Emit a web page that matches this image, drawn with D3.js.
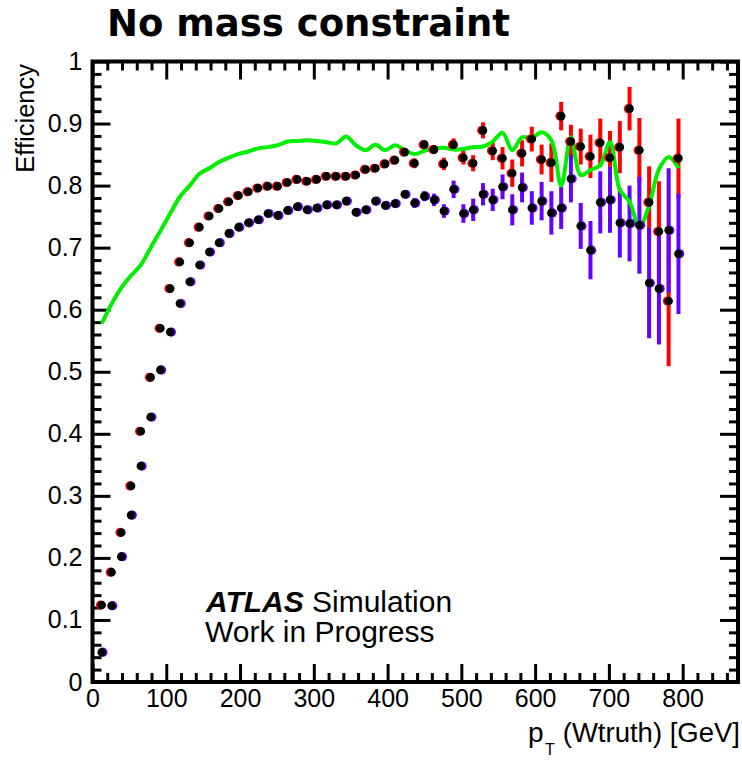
<!DOCTYPE html>
<html>
<head>
<meta charset="utf-8">
<script src="https://cdn.jsdelivr.net/npm/d3@7"></script>
<style>
  body { margin: 0; background: #fff; }
  .tick-label { font-family: "Liberation Sans", Arial, sans-serif; font-size: 25px; fill: #000; }
  .axis-title { font-family: "Liberation Sans", Arial, sans-serif; font-size: 28px; fill: #000; }
  .plot-title { font-family: "DejaVu Sans", sans-serif; font-weight: bold; font-size: 37px; fill: #000; }
  .atlas { font-family: "Liberation Sans", Arial, sans-serif; font-size: 30px; fill: #000; }
</style>
</head>
<body>
<div id="chart"></div>
<script>
// bin centres, p_T (Wtruth) [GeV]
const pT = [12.5, 25.8, 39, 52.3, 65.5, 78.8, 92, 105.3, 118.5, 131.8,
            145, 158.3, 171.5, 184.8, 198, 211.3, 224.5, 237.8, 251, 264.3,
            277.5, 290.8, 304, 317.3, 330.5, 343.8, 357, 370.3, 383.5, 396.8,
            410, 423.3, 436.5, 449.8, 463, 476.3, 489.5, 502.8, 516, 529.3,
            542.5, 555.8, 569, 582.3, 595.5, 608.8, 622, 635.3, 648.5, 661.8,
            675, 688.3, 701.5, 714.8, 728, 741.3, 754.5, 767.8, 781, 794.3];

// red series (upper points)
const effRed = [0.124, 0.177, 0.241, 0.316, 0.404, 0.491, 0.570, 0.634, 0.677, 0.708,
                0.733, 0.751, 0.763, 0.774, 0.784, 0.790, 0.796, 0.799, 0.799, 0.805,
                0.810, 0.807, 0.810, 0.815, 0.815, 0.815, 0.817, 0.826, 0.828, 0.835,
                0.841, 0.854, 0.836, 0.866, 0.858, 0.835, 0.866, 0.845, 0.836, 0.889,
                0.856, 0.844, 0.820, 0.852, 0.875, 0.842, 0.837, 0.912, 0.871, 0.863,
                0.847, 0.869, 0.845, 0.862, 0.924, 0.857, 0.773, 0.726, 0.614, 0.844];
const errRed = [0.003, 0.003, 0.003, 0.003, 0.003, 0.003, 0.003, 0.003, 0.003, 0.003,
                0.004, 0.004, 0.004, 0.004, 0.004, 0.004, 0.004, 0.004, 0.004, 0.004,
                0.004, 0.005, 0.005, 0.005, 0.005, 0.005, 0.005, 0.005, 0.005, 0.005,
                0.005, 0.006, 0.008, 0.007, 0.007, 0.010, 0.010, 0.011, 0.013, 0.013,
                0.015, 0.018, 0.022, 0.021, 0.020, 0.024, 0.031, 0.023, 0.027, 0.029,
                0.035, 0.039, 0.043, 0.042, 0.035, 0.052, 0.058, 0.081, 0.105, 0.064];

// violet series (lower points)
const effBlue = [0.048, 0.123, 0.202, 0.269, 0.348, 0.427, 0.503, 0.564, 0.610, 0.645,
                 0.672, 0.693, 0.708, 0.723, 0.733, 0.740, 0.745, 0.755, 0.752, 0.760,
                 0.766, 0.761, 0.764, 0.769, 0.769, 0.775, 0.757, 0.761, 0.775, 0.768,
                 0.771, 0.786, 0.772, 0.783, 0.777, 0.759, 0.794, 0.755, 0.761, 0.786,
                 0.777, 0.798, 0.761, 0.797, 0.764, 0.775, 0.756, 0.764, 0.811, 0.735,
                 0.696, 0.773, 0.777, 0.740, 0.739, 0.736, 0.643, 0.634, 0.728, 0.690];
const errBlue = [0.003, 0.003, 0.003, 0.003, 0.003, 0.003, 0.003, 0.003, 0.003, 0.003,
                 0.004, 0.004, 0.004, 0.004, 0.004, 0.004, 0.004, 0.004, 0.004, 0.004,
                 0.004, 0.006, 0.006, 0.006, 0.006, 0.006, 0.006, 0.006, 0.006, 0.006,
                 0.006, 0.006, 0.008, 0.008, 0.010, 0.011, 0.014, 0.015, 0.018, 0.018,
                 0.018, 0.020, 0.025, 0.024, 0.027, 0.031, 0.035, 0.034, 0.038, 0.037,
                 0.047, 0.050, 0.053, 0.056, 0.061, 0.078, 0.089, 0.090, 0.100, 0.097];

// green curve
const effGreen = [0.578, 0.609, 0.635, 0.655, 0.672, 0.700, 0.727, 0.755, 0.782, 0.800,
                  0.819, 0.828, 0.838, 0.845, 0.851, 0.855, 0.860, 0.862, 0.865, 0.871,
                  0.872, 0.873, 0.872, 0.870, 0.868, 0.879, 0.865, 0.857, 0.866, 0.857,
                  0.865, 0.857, 0.851, 0.856, 0.860, 0.861, 0.858, 0.859, 0.862, 0.863,
                  0.871, 0.885, 0.857, 0.878, 0.877, 0.886, 0.873, 0.800, 0.878, 0.817,
                  0.825, 0.833, 0.870, 0.793, 0.774, 0.733, 0.768, 0.826, 0.846, 0.828];

const xTicks = [0, 100, 200, 300, 400, 500, 600, 700, 800];
const yTicks = [0, 0.1, 0.2, 0.3, 0.4, 0.5, 0.6, 0.7, 0.8, 0.9, 1];

const width = 742, height = 760;
const frame = {left: 92.5, right: 738, top: 61.5, bottom: 682};

const svg = d3.select("#chart")
    .append("svg")
    .attr("width", width)
    .attr("height", height)
    .style("background", "#fff");

const x = d3.scaleLinear().domain([0, 875]).range([frame.left, frame.right]);
const y = d3.scaleLinear().domain([0, 1]).range([frame.bottom, frame.top]);

const xMinor = d3.range(0, 875, 20).filter(v => v % 100 !== 0);
const yMinor = d3.range(0, 50).map(i => i * 0.02).filter((v, i) => i % 5 !== 0);

// ticks: long majors, short minors, all pointing into the frame
function ticks(axisFn, scale, pos, major, minor, withLabels) {
    const g = svg.append("g").attr("transform", pos);
    g.append("g")
        .call(axisFn(scale).tickValues(minor).tickSize(-9).tickFormat(""))
        .call(a => a.select(".domain").remove());
    const gm = g.append("g")
        .call(axisFn(scale).tickValues(major).tickSize(-18).tickPadding(withLabels ? 7 : 0)
            .tickFormat(withLabels ? d3.format("~g") : ""))
        .call(a => a.select(".domain").remove());
    g.selectAll("line").attr("stroke", "#000").attr("stroke-width", 3);
    gm.selectAll("text").attr("class", "tick-label").attr("font-family", null).attr("font-size", null);
    return gm;
}

ticks(d3.axisBottom, x, `translate(0,${frame.bottom})`, xTicks, xMinor, true);
ticks(d3.axisTop, x, `translate(0,${frame.top})`, xTicks, xMinor, false);
ticks(d3.axisLeft, y, `translate(${frame.left},0)`, yTicks, yMinor, true)
    .selectAll("text").attr("x", -10);
ticks(d3.axisRight, y, `translate(${frame.right},0)`, yTicks, yMinor, false);

// frame
svg.append("rect")
    .attr("x", frame.left)
    .attr("y", frame.top)
    .attr("width", frame.right - frame.left)
    .attr("height", frame.bottom - frame.top)
    .attr("fill", "none")
    .attr("stroke", "#000")
    .attr("stroke-width", 4);

const red = pT.map((v, i) => ({x: v, y: effRed[i], e: errRed[i]}));
const blue = pT.map((v, i) => ({x: v, y: effBlue[i], e: errBlue[i]}));
const green = pT.map((v, i) => ({x: v, y: effGreen[i]}));

// error bars
function errBars(data, color) {
    svg.append("g")
        .selectAll("line")
        .data(data)
        .join("line")
        .attr("x1", d => x(d.x))
        .attr("x2", d => x(d.x))
        .attr("y1", d => y(d.y - d.e))
        .attr("y2", d => y(d.y + d.e))
        .attr("stroke", color)
        .attr("stroke-width", 4);
}
errBars(red, "#ff0000");
errBars(blue, "#6600ff");

// green curve
svg.append("path")
    .datum(green)
    .attr("fill", "none")
    .attr("stroke", "#00ee00")
    .attr("stroke-width", 4)
    .attr("stroke-linejoin", "round")
    .attr("d", d3.line().x(d => x(d.x)).y(d => y(d.y)).curve(d3.curveCatmullRom));

// markers: coloured halo, black dot on top
function markers(data, color, dx) {
    svg.append("g")
        .selectAll("circle")
        .data(data)
        .join("circle")
        .attr("cx", d => x(d.x) + dx)
        .attr("cy", d => y(d.y))
        .attr("r", 4.6)
        .attr("fill", color);
}
markers(red, "#ff0000", -1.2);
markers(blue, "#6600ff", 1.2);
svg.append("g")
    .selectAll("circle")
    .data(red.concat(blue))
    .join("circle")
    .attr("cx", d => x(d.x))
    .attr("cy", d => y(d.y))
    .attr("r", 4.3)
    .attr("fill", "#000");

// titles
svg.append("text")
    .attr("class", "plot-title")
    .attr("x", 107)
    .attr("y", 36)
    .text("No mass constraint");

svg.append("text")
    .attr("class", "axis-title")
    .attr("transform", "translate(34,64) rotate(-90)")
    .attr("text-anchor", "end")
    .style("font-size", "25.5px")
    .text("Efficiency");

svg.append("text")
    .attr("class", "axis-title")
    .attr("x", 528)
    .attr("y", 742)
    .text("p");
svg.append("text")
    .attr("class", "axis-title")
    .attr("x", 545)
    .attr("y", 755)
    .style("font-size", "16px")
    .text("T");
svg.append("text")
    .attr("class", "axis-title")
    .attr("x", 740)
    .attr("y", 742)
    .attr("text-anchor", "end")
    .style("font-size", "27.5px")
    .text("(Wtruth) [GeV]");

// ATLAS label
svg.append("text")
    .attr("class", "atlas")
    .attr("x", 206)
    .attr("y", 612)
    .style("font-weight", "bold")
    .style("font-style", "italic")
    .text("ATLAS");
svg.append("text")
    .attr("class", "atlas")
    .attr("x", 312)
    .attr("y", 612)
    .text("Simulation");
svg.append("text")
    .attr("class", "atlas")
    .attr("x", 205)
    .attr("y", 642)
    .text("Work in Progress");
</script>
</body>
</html>
